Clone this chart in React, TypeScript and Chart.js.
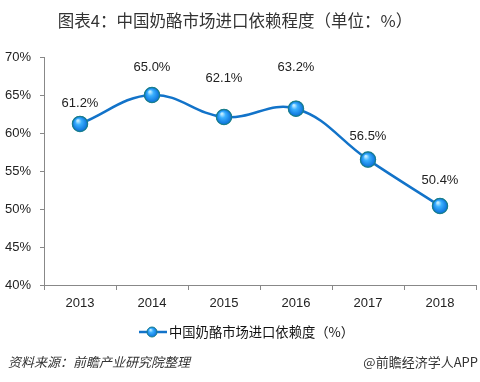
import React, { useEffect, useRef } from "react";
import { Chart, registerables } from "chart.js";

Chart.register(...registerables);

const categories = ["2013", "2014", "2015", "2016", "2017", "2018"];
const dependence = [61.2, 65.0, 62.1, 63.2, 56.5, 50.4];
const yTicks = { min: 40, max: 70, step: 5 };
const titleText = "图表4：中国奶酪市场进口依赖程度（单位：%）";
const seriesName = "中国奶酪市场进口依赖度（%）";
const sourceText = "资料来源：前瞻产业研究院整理";
const brandText = "@前瞻经济学人APP";
// vertical lift of each value label above its point (style only)
const labelLift = [20, 28, 39, 41, 23, 26];

const FONT = "Arial, 'Liberation Sans', 'Noto Sans CJK SC', sans-serif";
const CJK = "'Noto Sans CJK SC', 'Liberation Sans', sans-serif";
const LINE = "#1273c9";

function drawBall(ctx: CanvasRenderingContext2D, x: number, y: number, r: number) {
  const g = ctx.createRadialGradient(x - r * 0.3, y - r * 0.45, r * 0.1, x, y, r);
  g.addColorStop(0, "#bfeaff");
  g.addColorStop(0.35, "#3ab0ff");
  g.addColorStop(1, "#0a6fd8");
  ctx.beginPath();
  ctx.arc(x, y, r, 0, Math.PI * 2);
  ctx.fillStyle = g;
  ctx.fill();
  ctx.lineWidth = 1;
  ctx.strokeStyle = "#1a7f8a";
  ctx.stroke();
}

const overlay = {
  id: "overlay",
  afterDatasetsDraw(chart: any) {
    const ctx = chart.ctx as CanvasRenderingContext2D;
    const meta = chart.getDatasetMeta(0);
    ctx.save();
    meta.data.forEach((pt: any, i: number) => {
      drawBall(ctx, pt.x, pt.y, 7.5);
      ctx.fillStyle = "#222";
      ctx.font = `13px ${FONT}`;
      ctx.textAlign = "center";
      ctx.textBaseline = "middle";
      ctx.fillText(dependence[i].toFixed(1) + "%", pt.x, pt.y - labelLift[i]);
    });
    ctx.restore();
  },
  afterDraw(chart: any) {
    const ctx = chart.ctx as CanvasRenderingContext2D;
    ctx.save();
    ctx.fillStyle = "#333";
    ctx.font = `16.5px ${CJK}`;
    ctx.textAlign = "center";
    ctx.textBaseline = "middle";
    ctx.fillText(titleText, 235, 21);
    const ly = 332;
    ctx.strokeStyle = LINE;
    ctx.lineWidth = 2.5;
    ctx.beginPath();
    ctx.moveTo(139, ly);
    ctx.lineTo(167, ly);
    ctx.stroke();
    drawBall(ctx, 152, ly, 5);
    ctx.fillStyle = "#111";
    ctx.font = `13.3px ${CJK}`;
    ctx.textAlign = "left";
    ctx.fillText(seriesName, 169, ly);
    ctx.fillStyle = "#333";
    ctx.font = `italic 13px ${CJK}`;
    ctx.fillText(sourceText, 8, 362);
    ctx.font = `13px ${CJK}`;
    ctx.textAlign = "right";
    ctx.fillText(brandText, 478, 362);
    ctx.restore();
  },
};

export default function App() {
  const ref = useRef<HTMLCanvasElement>(null);
  useEffect(() => {
    if (!ref.current) return;
    const chart = new Chart(ref.current, {
      type: "line",
      data: {
        labels: categories,
        datasets: [
          {
            label: seriesName,
            data: dependence,
            borderColor: LINE,
            borderWidth: 2.5,
            tension: 0.4,
            pointRadius: 7,
            pointBackgroundColor: "#1e90f0",
            pointBorderColor: "#1a7f8a",
          },
        ],
      },
      options: {
        animation: false,
        responsive: false,
        maintainAspectRatio: false,
        layout: { autoPadding: false, padding: { top: 57, right: 4, left: 0, bottom: 0 } },
        plugins: { legend: { display: false }, tooltip: { enabled: false } },
        scales: {
          x: {
            offset: true,
            grid: { offset: true, drawOnChartArea: false, tickLength: 5, color: "#888" },
            border: { color: "#888" },
            ticks: { color: "#222", font: { size: 13, family: FONT }, padding: 6 },
            afterFit: (s: any) => {
              s.height = 97;
              s.paddingLeft = 0;
              s.paddingRight = 0;
            },
          },
          y: {
            min: yTicks.min,
            max: yTicks.max,
            grid: { drawOnChartArea: false, tickLength: 4, color: "#888" },
            border: { color: "#888" },
            ticks: {
              stepSize: yTicks.step,
              color: "#222",
              font: { size: 13, family: FONT },
              padding: 9,
              callback: (v: any) => v + "%",
            },
            afterFit: (s: any) => {
              s.width = 44;
              s.paddingTop = 0;
              s.paddingBottom = 0;
            },
          },
        },
      },
      plugins: [overlay],
    });
    return () => chart.destroy();
  }, []);
  return (
    <div style={{ position: "absolute", left: 0, top: 0, width: 480, height: 382, background: "#fff" }}>
      <canvas ref={ref} width={480} height={382} style={{ width: 480, height: 382 }} />
    </div>
  );
}
